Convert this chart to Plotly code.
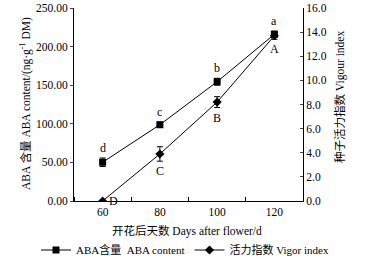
import plotly.graph_objects as go

days = [60, 80, 100, 120]
aba = [50.2, 98.8, 154.5, 216.0]
aba_err = [5.5, 3.5, 4.5, 4.0]
vigor = [0.0, 3.9, 8.2, 13.7]
vigor_err = [0.0, 0.6, 0.45, 0.3]
aba_letters = ["d", "c", "b", "a"]
vigor_letters = ["D", "C", "B", "A"]

serif = "Liberation Serif, Noto Sans CJK SC"
fig = go.Figure()
fig.add_trace(go.Scatter(
    x=days, y=aba, mode="lines+markers", name="ABA含量  ABA content",
    line=dict(color="black", width=1),
    marker=dict(symbol="square", size=7, color="black"),
    error_y=dict(type="data", array=aba_err, color="black", thickness=1, width=3),
))
fig.add_trace(go.Scatter(
    x=days, y=vigor, mode="lines+markers", name="活力指数 Vigor index", yaxis="y2",
    line=dict(color="black", width=1),
    marker=dict(symbol="diamond", size=7, color="black"),
    error_y=dict(type="data", array=vigor_err, color="black", thickness=1, width=3),
))

for d, v, e, t in zip(days, aba, aba_err, aba_letters):
    fig.add_annotation(x=d, y=v + e, text=t, showarrow=False, yshift=10,
                       font=dict(size=12, family=serif, color="black"))
for i, (d, v, e, t) in enumerate(zip(days, vigor, vigor_err, vigor_letters)):
    if i == 0:
        fig.add_annotation(x=d, y=v, text=t, showarrow=False, xshift=11, yref="y2",
                           font=dict(size=12, family=serif, color="black"))
    else:
        fig.add_annotation(x=d, y=v - e, text=t, showarrow=False, yshift=-10, yref="y2",
                           font=dict(size=12, family=serif, color="black"))

# axis titles as annotations for exact placement
fig.add_annotation(xref="paper", yref="paper", x=(25 - 74) / 229, y=(201 - 104) / 193,
                   text="ABA 含量 ABA content/(ng·g<sup>-1</sup> DM)", textangle=-90,
                   showarrow=False, xanchor="center", yanchor="middle",
                   font=dict(size=11.5, family=serif, color="black"))
fig.add_annotation(xref="paper", yref="paper", x=(340 - 74) / 229, y=(201 - 97) / 193,
                   text="种子活力指数 Vigour index", textangle=-90,
                   showarrow=False, xanchor="center", yanchor="middle",
                   font=dict(size=11.5, family=serif, color="black"))
fig.add_annotation(xref="paper", yref="paper", x=(187 - 74) / 229, y=-(231 - 201) / 193,
                   text="开花后天数 Days after flower/d",
                   showarrow=False, xanchor="center", yanchor="middle",
                   font=dict(size=11.5, family=serif, color="black"))

fig.update_layout(
    width=368, height=259,
    margin=dict(l=74, r=65, t=8, b=58, autoexpand=False),
    paper_bgcolor="white", plot_bgcolor="white",
    font=dict(family=serif, size=11.5, color="black"),
    showlegend=True,
    legend=dict(orientation="h", x=(36 - 74) / 229, xanchor="left", y=-(250 - 201) / 193,
                yanchor="middle", font=dict(size=11), itemwidth=30, tracegroupgap=0),
    xaxis=dict(range=[50, 130], tickvals=days, ticks="", showgrid=False, automargin=False,
               showline=True, linecolor="black", linewidth=1, zeroline=False,
               minor=dict(tick0=50, dtick=20, ticks="inside", ticklen=4, tickcolor="black")),
    yaxis=dict(range=[0, 250], dtick=50, tickformat=".2f", ticks="outside", ticklen=3,
               automargin=False, showgrid=False, showline=True, linecolor="black",
               linewidth=1, zeroline=False),
    yaxis2=dict(range=[0, 16], dtick=2, tickformat=".1f", ticks="inside", ticklen=3,
                automargin=False, overlaying="y", side="right", showgrid=False, showline=True,
                linecolor="black", linewidth=1, zeroline=False),
)
fig.write_html("out.html", config={"displayModeBar": False},
               post_script="document.body.style.margin='0px';")
